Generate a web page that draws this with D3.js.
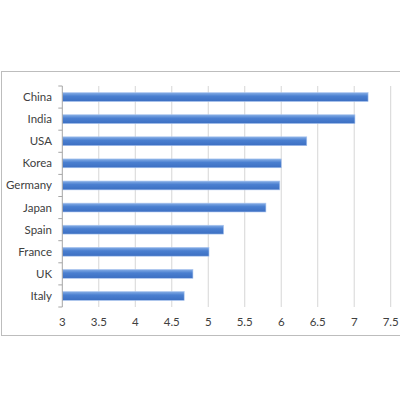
<!DOCTYPE html>
<html>
<head>
<meta charset="utf-8">
<script src="https://cdn.jsdelivr.net/npm/d3@7"></script>
<style>
  body { margin: 0; background: #fff; }
  text { font-family: Lato, "Liberation Sans", Arial, sans-serif; }
</style>
</head>
<body>
<div id="viz"></div>
<script>
const countries = ["China", "India", "USA", "Korea", "Germany", "Japan", "Spain", "France", "UK", "Italy"];
const values = [7.19, 7.01, 6.35, 6.0, 5.98, 5.79, 5.21, 5.01, 4.79, 4.67];
const ticks = [3, 3.5, 4, 4.5, 5, 5.5, 6, 6.5, 7, 7.5];

const W = 400, H = 400;
const plotLeft = 62.3, plotRight = 390.7, plotTop = 86, plotBottom = 307;

const svg = d3.select("#viz").append("svg")
  .attr("width", W)
  .attr("height", H);

// bar gradient, excel style
const grad = svg.append("defs").append("linearGradient")
  .attr("id", "barGrad")
  .attr("x1", 0).attr("y1", 0).attr("x2", 0).attr("y2", 1);
grad.append("stop").attr("offset", "0%").attr("stop-color", "#86aee6");
grad.append("stop").attr("offset", "40%").attr("stop-color", "#4a7fd0");
grad.append("stop").attr("offset", "100%").attr("stop-color", "#3c6fc2");

// chart frame
svg.append("rect")
  .attr("x", 1.5).attr("y", 71.5)
  .attr("width", 420).attr("height", 264)
  .attr("fill", "none")
  .attr("stroke", "#bdbdbd")
  .attr("stroke-width", 1);

const x = d3.scaleLinear().domain([3, 7.5]).range([plotLeft, plotRight]);
const y = d3.scaleBand().domain(countries).range([plotTop, plotBottom]).paddingInner(0.6).paddingOuter(0.3);
const yb = d3.scaleBand().domain(countries).range([plotTop, plotBottom]);

// gridlines
svg.append("g")
  .selectAll("line")
  .data(ticks.slice(1))
  .join("line")
  .attr("x1", d => x(d)).attr("x2", d => x(d))
  .attr("y1", plotTop).attr("y2", plotBottom)
  .attr("stroke", "#d6d6d6")
  .attr("stroke-width", 1);

// bars
svg.append("g")
  .selectAll("rect")
  .data(countries)
  .join("rect")
  .attr("x", x(3))
  .attr("y", d => y(d))
  .attr("width", (d, i) => x(values[i]) - x(3))
  .attr("height", y.bandwidth())
  .attr("fill", "url(#barGrad)")
  .attr("stroke", "#a9c4ee")
  .attr("stroke-width", 0.6);

// y axis line + ticks at band boundaries
svg.append("line")
  .attr("x1", plotLeft).attr("x2", plotLeft)
  .attr("y1", plotTop).attr("y2", plotBottom)
  .attr("stroke", "#a6a6a6");
svg.append("g")
  .selectAll("line")
  .data(d3.range(countries.length + 1))
  .join("line")
  .attr("x1", plotLeft - 4).attr("x2", plotLeft)
  .attr("y1", i => plotTop + i * yb.step())
  .attr("y2", i => plotTop + i * yb.step())
  .attr("stroke", "#a6a6a6");

// category labels
svg.append("g")
  .selectAll("text")
  .data(countries)
  .join("text")
  .attr("x", 52)
  .attr("y", d => yb(d) + yb.bandwidth() / 2)
  .attr("dy", "0.35em")
  .attr("text-anchor", "end")
  .attr("font-size", 11.5)
  .attr("fill", "#404040")
  .text(d => d);

// x tick labels
svg.append("g")
  .selectAll("text")
  .data(ticks)
  .join("text")
  .attr("x", d => x(d))
  .attr("y", 322)
  .attr("dy", "0.35em")
  .attr("text-anchor", "middle")
  .attr("font-size", 11.5)
  .attr("fill", "#404040")
  .text(d => d);
</script>
</body>
</html>
